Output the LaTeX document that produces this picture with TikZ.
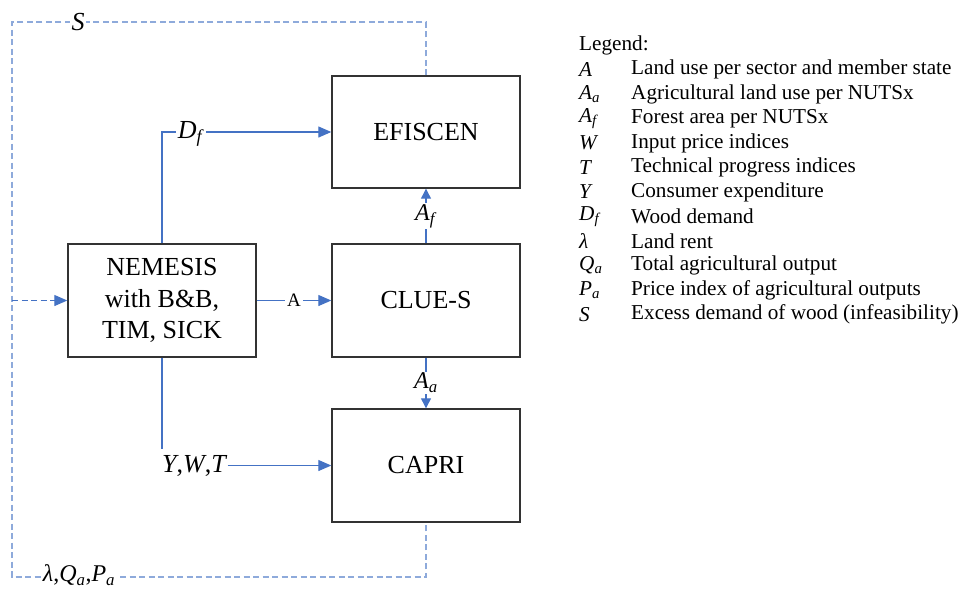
\documentclass[tikz,border=0pt]{standalone}
\usepackage{fontspec}
\setmainfont{Liberation Serif}
\usetikzlibrary{arrows.meta}
\definecolor{flowblue}{HTML}{4472C4}
\definecolor{fbblue}{HTML}{8EAADB}
\definecolor{boxline}{HTML}{333333}
\newcommand\sym[2]{\textit{#1}\textsubscript{\textit{#2}}}
\begin{document}
\begin{tikzpicture}[x=1pt,y=-1pt,
  modelbox/.style={draw=boxline,line width=1.4pt,minimum width=188pt,minimum height=112pt,inner sep=0pt,
    font=\fontsize{26}{31.5}\selectfont,align=center},
  flow/.style={draw=flowblue,line width=1.2pt},
  flowarrow/.style={flow,-{Triangle[length=13pt,width=11pt]}},
  smallarrow/.style={flow,-{Triangle[length=10pt,width=10pt]}},
  fb/.style={draw=fbblue,line width=1.3pt,dash pattern=on 6pt off 3.5pt},
  fbarrow/.style={draw=flowblue,line width=1.2pt,dash pattern=on 6pt off 3.5pt,-{Triangle[length=13pt,width=11pt]}},
  biglbl/.style={fill=white,inner sep=1.5pt,font=\fontsize{26}{30}\selectfont},
  midlbl/.style={fill=white,inner sep=1.5pt,font=\fontsize{24}{28}\selectfont},
  smalllbl/.style={fill=white,inner sep=2pt,font=\fontsize{19}{22}\selectfont},
  legsym/.style={anchor=west,inner sep=0pt,font=\fontsize{21.2}{24}\selectfont},
  legtxt/.style={anchor=west,inner sep=0pt,font=\fontsize{21.2}{24}\selectfont}
]
\useasboundingbox (0,0) rectangle (963,590);

% boxes
\node[modelbox] (efiscen) at (426,132) {EFISCEN};
\node[modelbox,minimum height=113pt] (clue) at (426,300.5) {CLUE-S};
\node[modelbox,minimum height=113pt] (capri) at (426,465.5) {CAPRI};
\node[modelbox,minimum height=113pt] (nemesis) at (162,300.5) {NEMESIS\\with B\&B,\\TIM, SICK};

% feedback loop
\coordinate (tr) at (426,22);
\coordinate (tl) at (12,22);
\coordinate (bl) at (12,577);
\coordinate (br) at (426,577);
\coordinate (in) at (12,300.5);
\draw[fb] (efiscen.north) -- (tr) -- (tl) -- (bl) -- (br) -- (capri.south);
\draw[fbarrow] (in) -- (nemesis.west);
\node[biglbl] (lblS) at (78,22) {\textit{S}};
\node[biglbl,font=\fontsize{24}{28}\selectfont] (lblL) at (79,575) {\textit{λ},\sym{Q}{a},\sym{P}{a}};

% flows
\draw[flowarrow] (nemesis.north) |- (efiscen.west);
\node[biglbl] (lblDf) at (191,134) {\sym{D}{f}};
\draw[flowarrow] (nemesis.east) -- node[smalllbl] (lblA) {A} (clue.west);
\draw[smallarrow] (clue.north) -- node[midlbl] (lblAf) {\sym{A}{f}} (efiscen.south);
\draw[smallarrow] (clue.south) -- node[midlbl] (lblAa) {\sym{A}{a}} (capri.north);
\node[anchor=west,inner sep=0pt,font=\fontsize{26}{30}\selectfont] (ywt) at (162,466) {\textit{Y},\textit{W},\textit{T}};
\coordinate (ywtTop) at (162,449);
\draw[flow] (nemesis.south) -- (ywtTop);
\draw[flowarrow] (ywt.east |- capri.west) -- (capri.west);

% legend
\node[legtxt] (leg) at (579,45) {Legend:};
\node[legsym] (s1) at (579,69.5) {\textit{A}};
\node[legtxt] (t1) at (631,69.5) {Land use per sector and member state};
\node[legsym] (s2) at (579,94) {\sym{A}{a}};
\node[legtxt] (t2) at (631,94) {Agricultural land use per NUTSx};
\node[legsym] (s3) at (579,118.5) {\sym{A}{f}};
\node[legtxt] (t3) at (631,118.5) {Forest area per NUTSx};
\node[legsym] (s4) at (579,143) {\textit{W}};
\node[legtxt] (t4) at (631,143) {Input price indices};
\node[legsym] (s5) at (579,167.5) {\textit{T}};
\node[legtxt] (t5) at (631,167.5) {Technical progress indices};
\node[legsym] (s6) at (579,192) {\textit{Y}};
\node[legtxt] (t6) at (631,192) {Consumer expenditure};
\node[legsym] (s7) at (579,216.5) {\sym{D}{f}};
\node[legtxt] (t7) at (631,216.5) {Wood demand};
\node[legsym] (s8) at (579,241) {\textit{λ}};
\node[legtxt] (t8) at (631,241) {Land rent};
\node[legsym] (s9) at (579,265.5) {\sym{Q}{a}};
\node[legtxt] (t9) at (631,265.5) {Total agricultural output};
\node[legsym] (s10) at (579,290) {\sym{P}{a}};
\node[legtxt] (t10) at (631,290) {Price index of agricultural outputs};
\node[legsym] (s11) at (579,314.5) {\textit{S}};
\node[legtxt] (t11) at (631,314.5) {Excess demand of wood (infeasibility)};
\end{tikzpicture}
\end{document}
